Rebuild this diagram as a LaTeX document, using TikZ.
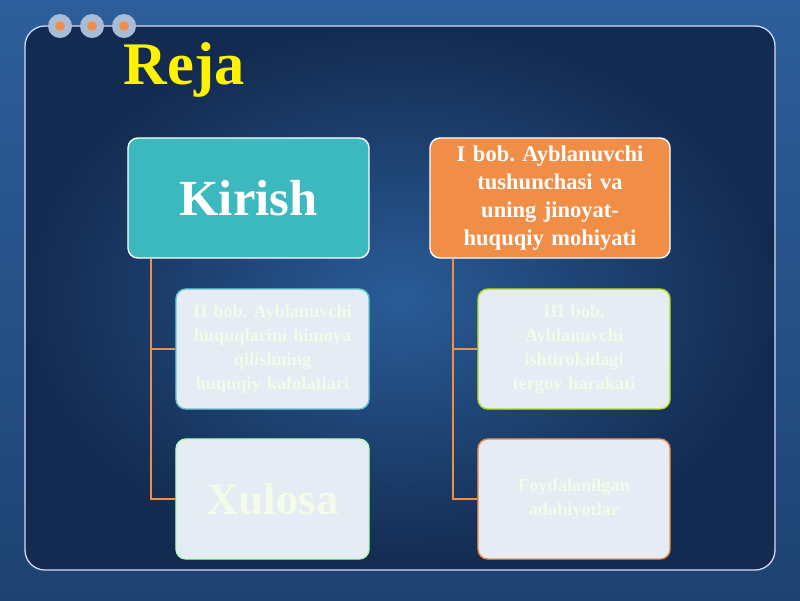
\documentclass[tikz,border=0pt]{standalone}
\usepackage{fontspec}
\setmainfont{Liberation Serif}
\frenchspacing
\definecolor{fonust}{HTML}{2D5E9B}
\definecolor{fonost}{HTML}{1E4372}
\definecolor{panelmarkaz}{HTML}{2A5C98}
\definecolor{panelchet}{HTML}{132B50}
\definecolor{moviy}{HTML}{3CB9BF}
\definecolor{toqsariq}{HTML}{F08E48}
\definecolor{ochrang}{HTML}{E5ECF3}
\definecolor{ochmatn}{HTML}{F4FBE8}
\definecolor{tugma}{HTML}{A9BCD6}
\tikzset{
  asosiy/.style={draw=white, line width=1pt, rounded corners=0.25cm,
    minimum width=6cm, minimum height=3cm, text width=5.6cm, align=center,
    text=white},
  bola/.style={fill=ochrang, line width=1pt, rounded corners=0.25cm,
    minimum width=4.8cm, minimum height=3cm, text width=4.5cm, align=center,
    text=ochmatn, font=\fontsize{13}{17}\selectfont\bfseries},
  ulagich/.style={draw=toqsariq, line width=1.5pt}
}
\begin{document}
\begin{tikzpicture}[x=0.025cm,y=-0.025cm]
    \useasboundingbox (0,0) rectangle (800,600);

    % Fon
    \shade[top color=fonust, bottom color=fonost] (0,0) rectangle (800,600);

    % Panel
    \shade[inner color=panelmarkaz, outer color=panelchet, rounded corners=0.5cm]
      (25,26) rectangle (775,570);
    \draw[white!85!blue, line width=0.9pt, rounded corners=0.5cm]
      (25,26) rectangle (775,570);

    % Tugmalar
    \foreach \x in {60,92,124} {
      \fill[tugma] (\x,26) circle (0.3cm);
      \fill[toqsariq] (\x,26) circle (0.12cm);
    }

    % Sarlavha
    \node[anchor=base, text=yellow, font=\fontsize{43}{47}\selectfont\bfseries]
      (reja) at (184,84) {Reja};

    % Bo'limlar
    \node[asosiy, fill=moviy, minimum width=6.025cm,
      font=\fontsize{36}{40}\selectfont\bfseries] (kirish) at (248.5,198) {Kirish};
    \node[asosiy, fill=toqsariq, font=\fontsize{16}{20}\selectfont\bfseries]
      (bob1) at (550,198)
      {I bob. Ayblanuvchi\\ tushunchasi va\\ uning jinoyat-\\ huquqiy mohiyati};

    \node[bola, draw=moviy!80!white, minimum width=4.825cm] (bob2) at (272.5,349)
      {II bob. Ayblanuvchi\\ huquqlarini himoya\\ qilishning\\ huquqiy kafolatlari};
    \node[bola, draw=green!30!white, minimum width=4.825cm,
      font=\fontsize{32}{36}\selectfont\bfseries] (xulosa) at (272.5,499) {Xulosa};

    \node[bola, draw=yellow!70!green] (bob3) at (574,349)
      {III bob.\\ Ayblanuvchi\\ ishtirokidagi\\ tergov harakati};
    \node[bola, draw=toqsariq] (adabiyot) at (574,499)
      {Foydalanilgan\\ adabiyotlar};

    % Ulagichlar
    \draw[ulagich] ([xshift=0.6cm]kirish.south west) |- (bob2.west);
    \draw[ulagich] ([xshift=0.6cm]kirish.south west) |- (xulosa.west);
    \draw[ulagich] ([xshift=0.6cm]bob1.south west) |- (bob3.west);
    \draw[ulagich] ([xshift=0.6cm]bob1.south west) |- (adabiyot.west);
\end{tikzpicture}
\end{document}
